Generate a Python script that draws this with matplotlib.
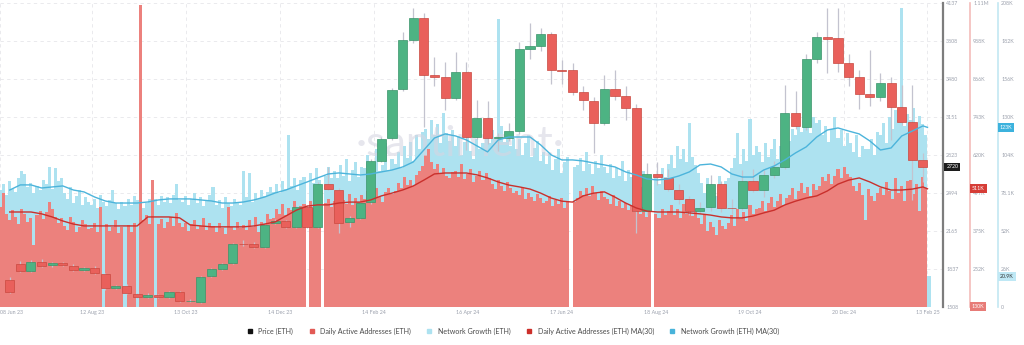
"""
ETH price (weekly candles) with daily active addresses and network growth.
"""
import numpy as np
import pandas as pd
import matplotlib
matplotlib.use('Agg')
import matplotlib.pyplot as plt
import matplotlib.dates as mdates
import matplotlib.transforms as mtransforms
from matplotlib.lines import Line2D

plt.rcParams['font.family'] = ['Lato', 'DejaVu Sans']

nan = np.nan

# Weekly price candles (ETH, USD), first week starting 2023-06-19
candle_start = '2023-06-19'
price_open = [1742, 1880, 1819, 1897, 1870, 1886, 1863, 1828, 1845, 1793,
              1672, 1690, 1620, 1595, 1612, 1595, 1638, 1560, 1551, 1776,
              1837, 1889, 2053, 2053, 2027, 2235, 2252, 2200, 2373, 2200,
              2572, 2520, 2243, 2278, 2416, 2771, 2970, 3394, 3818, 4008,
              3515, 3498, 3316, 3541, 2979, 3143, 2970, 2970, 3030, 3740,
              3766, 3869, 3558, 3558, 3368, 3290, 3100, 3394, 3333, 3229,
              2338, 2658, 2624, 2520, 2442, 2338, 2373, 2572, 2364, 2364,
              2598, 2520, 2650, 2719, 3186, 3065, 3653, 3844, 3835, 3619,
              3498, 3350, 3325, 3446, 3238, 3108, 2780]
price_high = [1765, 1905, 1912, 1925, 1900, 1898, 1878, 1852, 1862, 1805,
              1700, 1705, 1632, 1625, 1622, 1650, 1648, 1575, 1780, 1845,
              1892, 2065, 2085, 2068, 2230, 2265, 2262, 2385, 2390, 2590,
              2720, 2540, 2295, 2420, 2785, 2975, 3400, 3887, 4094, 4050,
              3670, 3630, 3714, 3630, 3299, 3290, 3010, 3100, 3800, 3965,
              3920, 3890, 3640, 3620, 3420, 3320, 3515, 3558, 3420, 3260,
              2754, 2760, 2700, 2570, 2470, 2420, 2650, 2600, 2440, 2693,
              2700, 2690, 2770, 3428, 3380, 3700, 3887, 4094, 4094, 3700,
              3560, 3731, 3530, 3500, 3428, 3428, 2840]
price_low = [1625, 1808, 1808, 1852, 1858, 1860, 1820, 1820, 1795, 1655,
             1660, 1620, 1588, 1588, 1585, 1588, 1550, 1548, 1545, 1768,
             1830, 1880, 2040, 2015, 2020, 2225, 2190, 2190, 2190, 2190,
             2520, 2150, 2200, 2265, 2400, 2760, 2950, 3380, 3790, 3065,
             3420, 3212, 3300, 2870, 2960, 2920, 2860, 2940, 3000, 3650,
             3720, 3440, 3440, 3340, 3212, 2840, 3080, 3300, 3126, 2150,
             2300, 2560, 2510, 2400, 2300, 2310, 2340, 2330, 2310, 2350,
             2500, 2460, 2620, 2700, 3050, 3040, 3620, 3532, 3540, 3420,
             3220, 3250, 3290, 2953, 3080, 2434, 2590]
price_close = [1638, 1819, 1897, 1863, 1888, 1870, 1828, 1845, 1802, 1672,
               1690, 1629, 1595, 1612, 1595, 1638, 1560, 1563, 1768, 1837,
               1880, 2053, 2050, 2027, 2217, 2252, 2200, 2373, 2200, 2572,
               2529, 2235, 2278, 2408, 2771, 2961, 3385, 3818, 4008, 3515,
               3498, 3316, 3541, 2979, 3143, 2970, 2975, 3030, 3740, 3766,
               3869, 3558, 3550, 3368, 3299, 3100, 3394, 3333, 3229, 2338,
               2658, 2633, 2529, 2442, 2338, 2364, 2572, 2364, 2360, 2598,
               2520, 2650, 2719, 3186, 3074, 3653, 3844, 3830, 3619, 3498,
               3350, 3325, 3446, 3238, 3108, 2780, 2720]

# Daily active addresses and network growth in thousands, 2-day buckets
# starting 2023-06-12 (last bucket is the partial day 2025-02-13)
bucket_start = '2023-06-12'
daa_k = [452, 498, 428, 410, 441, 419, 398, 446, 430, 405,
         418, 330, 425, 440, 412, 436, 468, 447, 420, 401,
         415, 392, 378, 420, 405, 371, 388, 410, 396, 380,
         385, 402, 371, 452, nan, 398, 376, 389, 410, 368,
         388, nan, 395, 372, 401, nan, 1104, 410, 426, 398,
         540, nan, 398, 412, 385, 405, 420, 392, 433, 401,
         388, 402, 375, 396, 411, 380, 392, 418, 377, 399,
         392, 370, 401, 385, 366, 452, 389, 378, 405, 384,
         395, 378, 410, 388, 420, 372, 405, 398, 430, 412,
         418, 445, 430, 462, 427, 450, 441, 470, 436, 455,
         462, nan, 471, 448, 490, 455, nan, 466, 478, 452,
         470, 488, 455, 476, 462, 495, 458, 480, 467, 490,
         478, 505, 470, 492, 512, 486, 468, 499, 515, 494,
         505, 530, 512, 548, 524, 540, 519, 556, 570, 585,
         620, 638, 598, 575, 590, 560, 578, 552, 545, 566,
         570, 548, 590, 541, 560, 575, 532, 551, 568, 540,
         562, 545, 528, 510, 538, 520, 505, 532, 515, 498,
         505, 490, 512, 478, 498, 484, 470, 495, 480, 466,
         470, 488, 455, 475, 462, 480, 450, 472, nan, 468,
         480, 505, 492, 515, 488, 520, 498, 476, 503, 485,
         478, 462, 490, 455, 470, 448, 466, 441, 458, 437,
         445, 428, 452, 420, 436, nan, 430, 418, 447, 425,
         440, 458, 425, 446, 418, 462, 430, 449, 422, 438,
         415, 398, 430, 376, 405, 388, 362, 410, 392, 380,
         402, 425, 390, 446, 418, 435, 408, 460, 428, 445,
         450, 472, 438, 465, 485, 452, 470, 495, 460, 482,
         490, 512, 478, 505, 530, 496, 518, 488, 525, 508,
         520, 548, 535, 560, 528, 552, 575, 545, 582, 560,
         548, 520, 505, 530, 492, 410, 510, 488, 470, 498,
         515, 490, 532, 505, 478, 545, 498, 520, 470, 535,
         540, 495, 525, 440, 548, 512, 130]
ng_k = [80, 84, 77, 86, 81, 79, 88, 93, 91, 82,
        85, 78, 83, 80, 87, 84, 96, 81, 95, 86,
        88, 78, 74, 82, 71, 76, 80, 70, 75, 72,
        70, 74, 68, 77, 72, 69, 73, 80, 71, 67,
        72, 69, 74, 70, 76, 73, 75, 68, 71, 74,
        78, 74, 70, 76, 72, 75, 71, 77, 84, 73,
        72, 76, 70, 74, 78, 71, 75, 69, 73, 77,
        82, 70, 73, 68, 75, 71, 69, 74, 72, 70,
        93, 75, 92, 72, 78, 74, 80, 76, 79, 82,
        79, 84, 78, 86, 81, 118, 83, 88, 80, 87,
        89, nan, 92, 85, 95, 87, nan, 90, 96, 88,
        93, 88, 97, 90, 101, 86, 94, 99, 89, 96,
        95, 104, 90, 99, 108, 93, 97, 112, 94, 101,
        98, 106, 95, 110, 102, 113, 100, 118, 108, 120,
        122, 115, 128, 118, 125, 112, 133, 119, 114, 121,
        110, 117, 104, 113, 120, 107, 101, 115, 108, 112,
        118, 112, 121, 115, 197, 124, 113, 119, 110, 116,
        108, 115, 104, 112, 118, 103, 109, 114, 100, 106,
        98, 105, 94, 101, 108, 92, 99, 103, nan, 96,
        97, 102, 93, 106, 98, 91, 100, 95, 104, 96,
        92, 98, 88, 95, 90, 100, 86, 94, 89, 91,
        88, 82, 93, 78, 86, nan, 90, 84, 95, 89,
        98, 104, 95, 110, 101, 108, 99, 126, 103, 97,
        92, 85, 78, 88, 74, 82, 76, 90, 80, 86,
        88, 95, 102, 119, 98, 108, 100, 129, 104, 110,
        106, 99, 112, 103, 108, 115, 101, 110, 118, 105,
        114, 122, 118, 128, 120, 132, 125, 119, 130, 126,
        128, 118, 124, 113, 122, 130, 116, 121, 110, 119,
        112, 106, 118, 103, 110, 108, 108, 115, 104, 120,
        118, 126, 112, 130, 122, 135, 128, 205, 124, 132,
        128, 136, 120, 131, 125, 118, 20.9]

# 30-day moving averages (thousands), one value per candle week + last day
ma_last_day = '2025-02-13'
daa_ma_k = [436, 436, 436, 430, 420, 407, 397, 391, 391, 391,
            391, 391, 391, 420, 420, 420, 417, 394, 391, 388,
            388, 388, 388, 391, 397, 404, 423, 442, 455, 459,
            459, 465, 468, 468, 475, 488, 497, 507, 520, 539,
            559, 562, 562, 562, 556, 546, 533, 523, 517, 510,
            497, 481, 471, 468, 488, 497, 501, 484, 465, 449,
            439, 436, 436, 436, 433, 430, 426, 420, 417, 417,
            423, 433, 442, 459, 471, 481, 488, 504, 526, 539,
            546, 533, 517, 507, 507, 510, 517, 511]
ng_ma_k = [80.1, 83.6, 83.6, 81.5, 82.2, 82.9, 80.1, 78.8, 75.3, 72.6,
           71.2, 71.2, 71.2, 71.9, 73.3, 74.0, 74.0, 74.0, 73.3, 72.6,
           71.2, 71.2, 71.9, 73.3, 75.3, 78.1, 80.1, 82.9, 85.6, 88.4,
           91.1, 91.8, 91.1, 90.4, 91.1, 92.5, 93.8, 95.9, 99.3, 107.5,
           115.7, 118.5, 117.1, 114.4, 110.3, 106.2, 114.4, 116.4, 116.4, 116.4,
           111.0, 104.1, 100.7, 100.7, 100.0, 98.6, 97.3, 95.9, 92.5, 90.4,
           87.7, 87.0, 87.7, 89.7, 92.5, 97.3, 97.9, 95.9, 91.1, 89.0,
           89.0, 93.8, 96.6, 100.7, 105.5, 109.6, 116.4, 121.2, 122.6, 120.5,
           118.5, 113.7, 107.5, 108.9, 117.1, 120.5, 124.0, 123]

# x-axis labels
tick_dates = ['2023-06-08', '2023-08-12', '2023-10-13', '2023-12-14', '2024-02-14',
              '2024-04-16', '2024-06-17', '2024-08-18', '2024-10-19', '2024-12-20',
              '2025-02-13']
tick_labels = ['08 Jun 23', '12 Aug 23', '13 Oct 23', '14 Dec 23', '14 Feb 24',
               '16 Apr 24', '17 Jun 24', '18 Aug 24', '19 Oct 24', '20 Dec 24',
               '13 Feb 25']

# colours
GREEN, GREEN_EDGE = '#4db383', '#3a946a'
RED, RED_EDGE = '#e9605b', '#c9483f'
WICK = '#c3c3cf'
DAA_BAR = '#ec817d'
NG_BAR = '#ade2f0'
DAA_LINE = '#c9302c'
NG_LINE = '#4cb4db'
LABEL = '#9ca1ad'


def fmt_k(v):
    if v >= 1000:
        return f'{v / 1000:.3g}M'
    return f'{v:.3g}K' if v > 0 else '0'


def main():
    cd = mdates.date2num(pd.date_range(candle_start, periods=len(price_open), freq='7D'))
    bd = mdates.date2num(pd.date_range(bucket_start, periods=len(daa_k), freq='2D'))
    md = np.append(cd, mdates.date2num(pd.Timestamp(ma_last_day)))
    td = mdates.date2num(pd.to_datetime(tick_dates))

    o, h = np.array(price_open, float), np.array(price_high, float)
    l, c = np.array(price_low, float), np.array(price_close, float)
    daa = np.array(daa_k, float)
    ng = np.array(ng_k, float)

    fig = plt.figure(figsize=(10.24, 3.45), dpi=100)
    ax_ng = fig.add_axes([0, 38 / 345, 943 / 1024, 304 / 345])
    ax_daa = ax_ng.twinx()
    ax_price = ax_ng.twinx()
    ax_daa_ma = ax_ng.twinx()
    ax_ng_ma = ax_ng.twinx()

    x0 = mdates.date2num(pd.Timestamp('2023-06-08')) + 4.6
    x1 = x0 + 943 / 1.517
    ng_lim = (0, 208.16)
    daa_lim = (129.1, 1111.1)
    price_lim = (1508.2, 4137.0)

    # bars, packed edge to edge
    ax_ng.bar(bd, ng, width=2.0, align='edge', color=NG_BAR, linewidth=0)
    ax_daa.bar(bd, daa, width=2.0, align='edge', color=DAA_BAR, linewidth=0)
    ax_daa.text(0.488, 0.535, '·santiment·', transform=ax_daa.transAxes,
                ha='center', va='center', fontsize=31, color='#d6d6e2',
                alpha=0.6, zorder=5)

    # candles
    up = c >= o
    ax_price.vlines(cd, l, h, color=WICK, lw=0.9, zorder=1)
    ax_price.bar(cd, np.abs(c - o), bottom=np.minimum(o, c), width=6,
                 color=np.where(up, GREEN, RED),
                 edgecolor=np.where(up, GREEN_EDGE, RED_EDGE),
                 linewidth=0.5, zorder=2)

    # moving averages
    ax_daa_ma.plot(md, daa_ma_k, color=DAA_LINE, lw=1.0)
    ax_ng_ma.plot(md, ng_ma_k, color=NG_LINE, lw=1.0)

    for ax in (ax_ng, ax_daa, ax_price, ax_daa_ma, ax_ng_ma):
        ax.set_xlim(x0, x1)
        for s in ('top', 'left', 'bottom'):
            ax.spines[s].set_visible(False)
    ax_ng.set_ylim(*ng_lim)
    ax_ng_ma.set_ylim(*ng_lim)
    ax_daa.set_ylim(*daa_lim)
    ax_daa_ma.set_ylim(*daa_lim)
    ax_price.set_ylim(*price_lim)

    for ax in (ax_daa_ma, ax_ng_ma):
        ax.spines['right'].set_visible(False)
        ax.set_yticks([])

    # right-hand scales
    ax_ng.yaxis.tick_right()
    ax_ng.spines['right'].set_position(('axes', 998 / 943))
    ax_ng.spines['right'].set_color('#c2e7f2')
    ax_ng.spines['right'].set_linewidth(1.2)
    ng_ticks = np.linspace(*ng_lim, 9)
    ax_ng.set_yticks(ng_ticks, [fmt_k(v) for v in ng_ticks])

    ax_daa.spines['right'].set_position(('axes', 970 / 943))
    ax_daa.spines['right'].set_color('#f3bcba')
    ax_daa.spines['right'].set_linewidth(1.2)
    daa_ticks = np.linspace(*daa_lim, 9)
    ax_daa.set_yticks(daa_ticks, [''] + [fmt_k(v) for v in daa_ticks[1:]])

    ax_price.spines['right'].set_color('#7d7d7d')
    ax_price.spines['right'].set_linewidth(1.6)
    price_ticks = np.linspace(*price_lim, 9)
    ax_price.set_yticks(price_ticks, [f'{v:.0f}' for v in price_ticks])

    for ax in (ax_ng, ax_daa, ax_price):
        ax.tick_params(axis='y', length=0, pad=2.2, labelsize=3.8, labelcolor=LABEL)

    # x axis and grid
    ax_ng.set_xticks(np.maximum(td, x0), tick_labels)
    ax_ng.tick_params(axis='x', length=0, pad=2.5, labelsize=3.8, labelcolor=LABEL)
    ax_ng.get_xticklabels()[0].set_ha('left')
    ax_ng.set_axisbelow(True)
    ax_ng.grid(True, color='#e6e6ea', lw=0.6, ls=(0, (4, 4)))

    # last-value tags
    top = ax_ng_ma

    def tag(ax, xpos, val, text, fc, tc='white'):
        tr = mtransforms.blended_transform_factory(top.transAxes, ax.transData)
        top.text(xpos, val, text, transform=tr, ha='left', va='center',
                 fontsize=3.8, color=tc, clip_on=False, zorder=10,
                 bbox=dict(boxstyle='square,pad=0.35', fc=fc, ec='none'))

    tag(ax_price, 1.0035, c[-1], f'{c[-1]:.0f}', '#1c1c1c')
    tag(ax_daa, 972 / 943, daa_ma_k[-1], fmt_k(daa_ma_k[-1]), '#d63d37')
    tag(ax_daa, 972 / 943, daa[-1], fmt_k(daa[-1]), '#e77b77')
    tag(ax_ng, 1000 / 943, ng_ma_k[-1], fmt_k(ng_ma_k[-1]), '#3cb2dd')
    tag(ax_ng, 1000 / 943, ng[-1], fmt_k(ng[-1]), '#bfe8f5', '#333333')

    # legend
    names = ['Price (ETH)', 'Daily Active Addresses (ETH)', 'Network Growth (ETH)',
             'Daily Active Addresses (ETH) MA(30)', 'Network Growth (ETH) MA(30)']
    colors = ['#111111', '#e25a55', NG_BAR, '#cc2f2a', '#48b3da']
    handles = [Line2D([], [], marker='s', ls='', color=col, markersize=3.4) for col in colors]
    fig.legend(handles, names, loc='center', bbox_to_anchor=(511 / 1024, 14 / 345),
               ncol=5, frameon=False, fontsize=5.1, handletextpad=0.2,
               columnspacing=1.6, labelcolor='#4a4a4a')

    fig.savefig('out.png', dpi=100)


if __name__ == '__main__':
    main()
